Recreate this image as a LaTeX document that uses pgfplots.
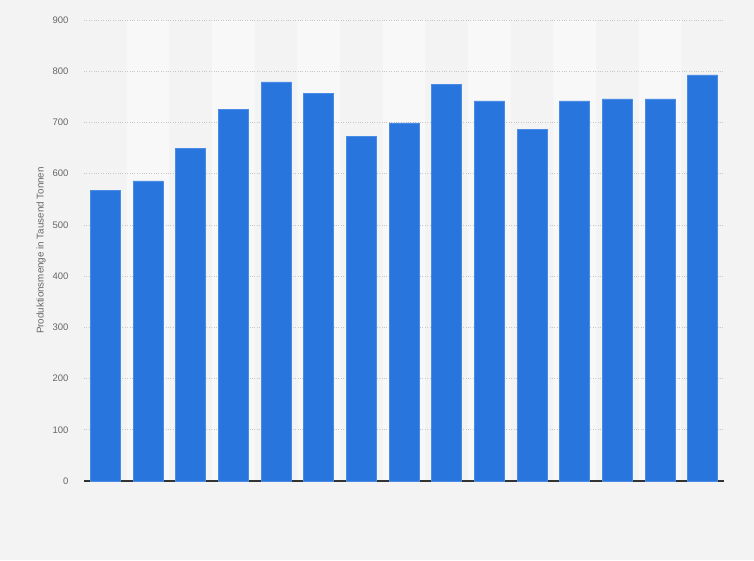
\documentclass[border=0pt]{standalone}
\usepackage{pgfplots}
\pgfplotsset{compat=1.18}
\usepackage{fontspec}
\setmainfont{Liberation Sans}
\definecolor{bgc}{HTML}{F3F3F3}
\definecolor{bandc}{HTML}{F8F8F8}
\definecolor{barc}{HTML}{2876DD}
\definecolor{barb}{HTML}{4A8BE6}
\definecolor{txt}{HTML}{666666}
\pagecolor{bgc}
\begin{document}
\begin{tikzpicture}
\path (0,0) rectangle (754pt,560pt);
\begin{axis}[
  set layers,
  at={(84pt,79pt)}, anchor=south west,
  scale only axis, width=640pt, height=461pt,
  xmin=-0.5, xmax=14.5, ymin=0, ymax=900,
  ytick={0,100,...,900},
  xtick=\empty,
  axis x line*=bottom, axis y line*=left,
  x axis line style={draw=black!80, line width=1.3pt, -},
  y axis line style={draw=none},
  ymajorgrids,
  major grid style={dotted, draw=black!22, line width=0.7pt},
  tick style={draw=none},
  yticklabel style={font=\fontsize{9.5}{10}\selectfont, text=txt, xshift=-12pt},
  /pgf/number format/assume math mode=true,
  ylabel={Produktionsmenge in Tausend Tonnen},
  ylabel style={font=\fontsize{9.8}{11}\selectfont, text=txt},
  ylabel shift=0pt,
  clip=false,
]
\addplot[ybar, bar width=1, bar shift=0pt, fill=bandc, draw=none, on layer=axis background] coordinates {
(1,900) (3,900) (5,900) (7,900) (9,900) (11,900) (13,900)
};
\addplot[ybar, bar width=30pt, bar shift=0pt, fill=barc, draw=barb, line width=0.6pt] coordinates {
(0,568) (1,586) (2,650) (3,726) (4,779) (5,757) (6,672) (7,699)
(8,775) (9,742) (10,687) (11,742) (12,746) (13,746) (14,793)
};
\end{axis}
\end{tikzpicture}
\end{document}
